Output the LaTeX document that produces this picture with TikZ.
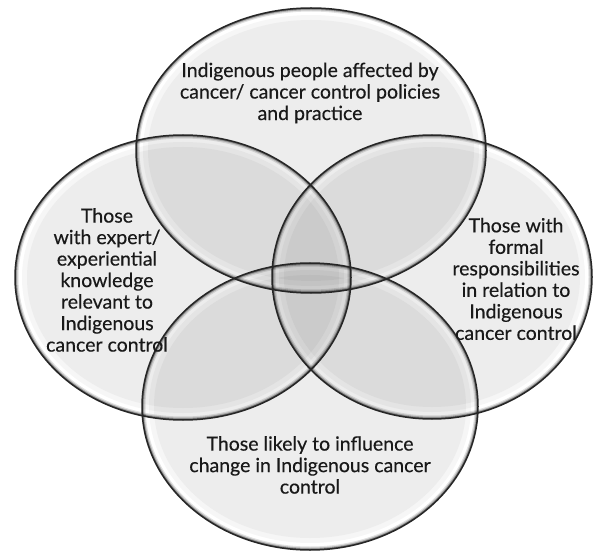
\documentclass[tikz,border=0pt]{standalone}
\usepackage{fontspec}
\setmainfont{Lato}
\newfontfamily\lblfont{Lato}[FakeBold=0.4]
\usetikzlibrary{positioning}

\tikzset{
  tint/.style={fill=black!3.5},
  rim/.style={draw=black!85, line width=1.5pt},
  lbl/.style={align=center, text=black!90, inner sep=0pt,
    font=\lblfont\fontsize{19.5}{21.5}\selectfont}
}

\begin{document}
\begin{tikzpicture}[x=1pt,y=-1pt]
\useasboundingbox (0,0) rectangle (594,553);

% the four sets, each a glossy bubble
\begin{scope}[blend mode=multiply]
\foreach \n/\cx/\cy/\rx/\ry in {top/311/150.5/175/142.5, left/183/277.5/168/142.5,
    right/432/277/160/142, bottom/310/406.5/168/143.5}{
  \coordinate (\n) at (\cx,\cy);
  \path[tint] (\n) ellipse [x radius=\rx-7, y radius=\ry-7];
  \path[tint] (\n) ellipse [x radius=\rx-12, y radius=\ry-12];
  \begin{scope}
    \clip (\n) ellipse [x radius=\rx, y radius=\ry];
    \foreach \w/\c in {7/12, 4.5/22, 2.5/35}
      \draw[line width=\w pt, black!\c] (\n) ellipse [x radius=\rx, y radius=\ry];
  \end{scope}
}
\end{scope}

% outlines
\foreach \n/\rx/\ry in {top/175/142.5, left/168/142.5, right/160/142, bottom/168/143.5}
  \draw[rim] (\n) ellipse [x radius=\rx, y radius=\ry];

% labels
\node[lbl] (toplbl) at (310,93) {Indigenous people affected by\\cancer/ cancer control policies\\and practice};
\node[lbl] (leftlbl) at (107,280) {Those\\with expert/\\experiential\\knowledge\\relevant to\\Indigenous\\cancer control};
\node[lbl] (rightlbl) at (516,279) {Those with\\formal\\responsibilities\\in relation to\\Indigenous\\cancer control};
\node[lbl] (botlbl) at (310,465) {Those likely to influence\\change in Indigenous cancer\\control};

\end{tikzpicture}
\end{document}
